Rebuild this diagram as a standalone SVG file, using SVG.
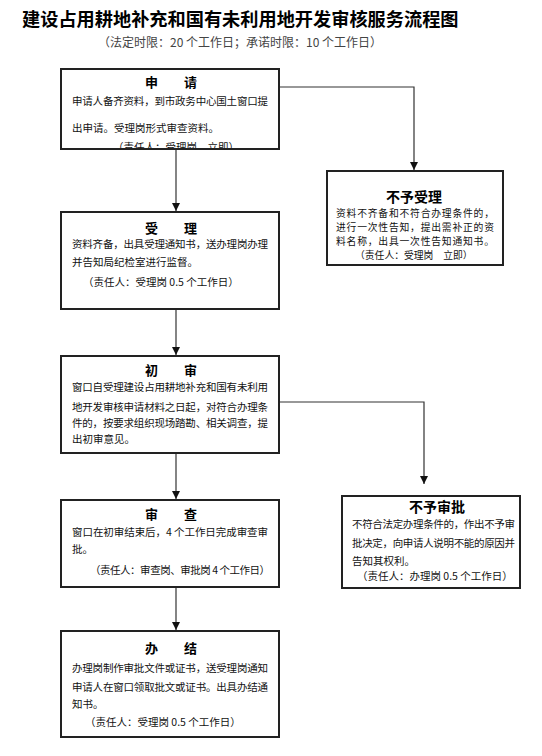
<svg xmlns="http://www.w3.org/2000/svg" width="542" height="756" viewBox="0 0 542 756">
<style>
.t{font-family:"Noto Sans CJK SC","Liberation Sans",sans-serif;font-size:10.5px;fill:#111}
.s{font-family:"Noto Sans CJK SC","Liberation Sans",sans-serif;font-size:9.8px;fill:#111}
.h{font-family:"Noto Sans CJK SC","Liberation Sans",sans-serif;font-size:13px;font-weight:bold;fill:#000;text-anchor:middle}
.h2{font-family:"Noto Sans CJK SC","Liberation Sans",sans-serif;font-size:14px;font-weight:bold;fill:#000;text-anchor:middle}
.box{fill:#fff;stroke:#222;stroke-width:2}
.c{fill:none;stroke:#333;stroke-width:1.2}
</style>
<defs>
<marker id="ar" viewBox="0 0 10 10" refX="10" refY="5" markerWidth="8" markerHeight="8" markerUnits="userSpaceOnUse" orient="auto">
<path d="M0,0 L10,5 L0,10 z" fill="#111"/>
</marker>
<clipPath id="cl1"><rect x="62" y="70" width="216" height="78"/></clipPath>
</defs>
<rect width="542" height="756" fill="#fff"/>
<text x="22" y="26" font-family="'Noto Sans CJK SC',sans-serif" font-size="18.2" font-weight="bold" fill="#000">建设占用耕地补充和国有未利用地开发审核服务流程图</text>
<text x="240" y="47" font-family="'Noto Sans CJK SC',sans-serif" font-size="12" fill="#444" text-anchor="middle">（法定时限：20 个工作日；承诺时限：10 个工作日）</text>
<g id="connectors">
<path class="c" d="M176,149 V211" marker-end="url(#ar)"/>
<path class="c" d="M279,87 H414 V170" marker-end="url(#ar)"/>
<path class="c" d="M176,309 V355" marker-end="url(#ar)"/>
<path class="c" d="M279,402 H424 V484" marker-end="url(#ar)"/>
<path class="c" d="M176,453 V499" marker-end="url(#ar)"/>
<path class="c" d="M176,587 V630" marker-end="url(#ar)"/>
</g>
<g id="n1">
<rect class="box" x="61" y="69" width="218" height="80"/>
<text class="h" x="171" y="87">申　　请</text>
<text class="t" x="72" y="105" textLength="196">申请人备齐资料，到市政务中心国土窗口提</text>
<text class="t" x="72" y="132">出申请。受理岗形式审查资料。</text>
<text class="t" x="113" y="151" clip-path="url(#cl1)">（责任人：受理岗　立即）</text>
</g>
<g id="n2">
<rect class="box" x="61" y="212" width="218" height="97"/>
<text class="h" x="171" y="233">受　　理</text>
<text class="t" x="72" y="248" textLength="196">资料齐备，出具受理通知书，送办理岗办理</text>
<text class="t" x="72" y="266">并告知局纪检室进行监督。</text>
<text class="t" x="83" y="286">（责任人：受理岗 0.5 个工作日）</text>
</g>
<g id="n3">
<rect class="box" x="327" y="171" width="176" height="94"/>
<text class="h2" x="414" y="202">不予受理</text>
<text class="s" x="336" y="217" textLength="158">资料不齐备和不符合办理条件的，</text>
<text class="s" x="336" y="231" textLength="158">进行一次性告知，提出需补正的资</text>
<text class="s" x="336" y="245" textLength="158">料名称，出具一次性告知通知书。</text>
<text class="s" x="355" y="259">（责任人：受理岗　立即）</text>
</g>
<g id="n4">
<rect class="box" x="61" y="356" width="218" height="97"/>
<text class="h" x="171" y="375">初　　审</text>
<text class="t" x="72" y="391" textLength="196">窗口自受理建设占用耕地补充和国有未利用</text>
<text class="t" x="72" y="411" textLength="196">地开发审核申请材料之日起，对符合办理条</text>
<text class="t" x="72" y="427" textLength="196">件的，按要求组织现场踏勘、相关调查，提</text>
<text class="t" x="72" y="443">出初审意见。</text>
</g>
<g id="n5">
<rect class="box" x="342" y="496" width="178" height="92"/>
<text class="h2" x="437" y="512">不予审批</text>
<text class="t" x="352" y="528" textLength="163">不符合法定办理条件的，作出不予审</text>
<text class="t" x="352" y="547" textLength="163">批决定，向申请人说明不能的原因并</text>
<text class="t" x="352" y="565">告知其权利。</text>
<text class="t" x="357" y="580">（责任人：办理岗 0.5 个工作日）</text>
</g>
<g id="n6">
<rect class="box" x="61" y="500" width="218" height="87"/>
<text class="h" x="171" y="519" font-weight="normal">审　　查</text>
<text class="t" x="72" y="536" textLength="196">窗口在初审结束后，4  个工作日完成审查审</text>
<text class="t" x="72" y="553">批。</text>
<text class="t" x="90" y="574" textLength="180">（责任人：审查岗、审批岗 4 个工作日）</text>
</g>
<g id="n7">
<rect class="box" x="61" y="631" width="218" height="106"/>
<text class="h" x="171" y="653">办　　结</text>
<text class="t" x="72" y="672" textLength="196">办理岗制作审批文件或证书，送受理岗通知</text>
<text class="t" x="72" y="691" textLength="196">申请人在窗口领取批文或证书。出具办结通</text>
<text class="t" x="72" y="708">知书。</text>
<text class="t" x="85" y="726">（责任人：受理岗 0.5 个工作日）</text>
</g>
</svg>
